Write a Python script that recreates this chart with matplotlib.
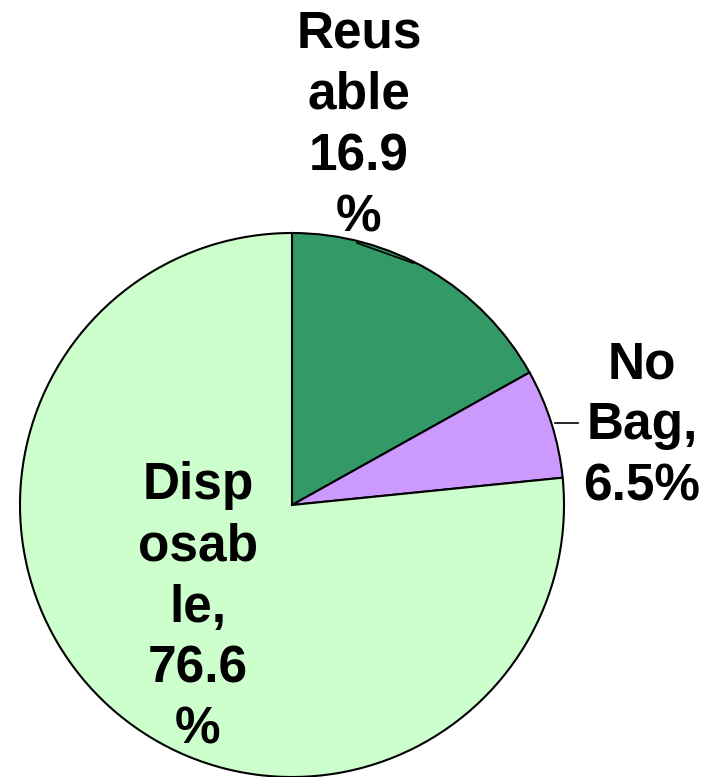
import matplotlib
matplotlib.use("Agg")
import matplotlib.pyplot as plt

categories = ["Reusable", "No Bag", "Disposable"]
values = [16.9, 6.5, 76.6]
label_texts = ["Reus\nable\n16.9\n%", "No\nBag,\n6.5%", "Disp\nosab\nle,\n76.6\n%"]
colors = ["#339966", "#CC99FF", "#CCFFCC"]

W, H = 718, 777
fig = plt.figure(figsize=(W / 100, H / 100), dpi=100)
ax = fig.add_axes([0, 0, 1, 1])

cx, cy, r = 292, H - 505, 272
ax.pie(values, colors=colors, startangle=90, counterclock=False,
       center=(cx, cy), radius=r, frame=True,
       wedgeprops=dict(edgecolor="black", linewidth=1.5))
ax.set_xlim(0, W)
ax.set_ylim(0, H)
ax.axis("off")

font = dict(family=["Liberation Sans", "DejaVu Sans"], fontweight="bold",
            fontsize=37, linespacing=1.32, ha="center", va="center")
label_pos = [(359, H - 126), (642, H - 426), (198, H - 608)]
for txt, (x, y) in zip(label_texts, label_pos):
    ax.text(x, y, txt, **font)

# leader lines
ax.plot([357, 413], [H - 243, H - 263], color="black", lw=1.2)
ax.plot([555, 578], [H - 423, H - 423], color="black", lw=1.2)

fig.savefig("out.png", dpi=100)
